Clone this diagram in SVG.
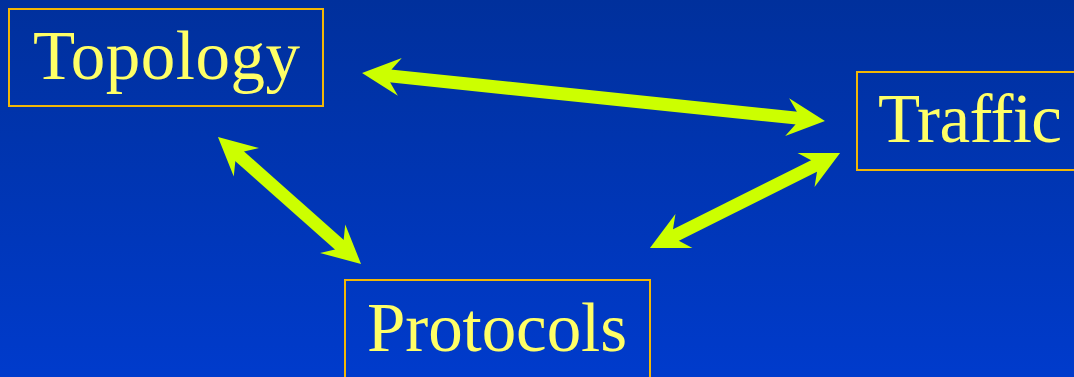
<svg xmlns="http://www.w3.org/2000/svg" width="1074" height="377" viewBox="0 0 1074 377">
  <defs>
    <linearGradient id="bg" x1="0" y1="0" x2="0" y2="1">
      <stop offset="0" stop-color="#00309c"/>
      <stop offset="1" stop-color="#003bcc"/>
    </linearGradient>
    <marker id="head" viewBox="-14 -22 46 44" refX="0" refY="0" markerWidth="46" markerHeight="44" markerUnits="userSpaceOnUse" orient="auto-start-reverse">
      <path d="M28,0 L-10,-19 L-1,-6.5 L-1,6.5 L-10,19 Z" fill="#ccff00"/>
    </marker>
    <style>
      .box { fill: none; stroke: #f2b705; stroke-width: 2; }
      .lbl { font-family: "Liberation Serif", "Times New Roman", serif; font-size: 69px; fill: #ffff66; }
      .conn { stroke: #ccff00; stroke-width: 13; fill: none; marker-start: url(#head); marker-end: url(#head); }
    </style>
  </defs>
  <rect x="0" y="0" width="1074" height="377" fill="url(#bg)"/>
  <g id="connectors">
    <line class="conn" x1="389.9" y1="75.9" x2="797.1" y2="118.1"/>
    <line class="conn" x1="238.9" y1="155.6" x2="340.1" y2="245.4"/>
    <line class="conn" x1="675.0" y1="235.5" x2="815.0" y2="165.5"/>
  </g>
  <g id="topology">
    <rect class="box" x="9" y="9" width="314" height="97"/>
    <text class="lbl" x="33" y="79" textLength="267" lengthAdjust="spacing">Topology</text>
  </g>
  <g id="traffic">
    <rect class="box" x="857" y="72" width="230" height="98"/>
    <text class="lbl" x="878" y="142" textLength="184" lengthAdjust="spacing">Traffic</text>
  </g>
  <g id="protocols">
    <rect class="box" x="345" y="280" width="305" height="110"/>
    <text class="lbl" x="367" y="351" textLength="260" lengthAdjust="spacing">Protocols</text>
  </g>
</svg>
